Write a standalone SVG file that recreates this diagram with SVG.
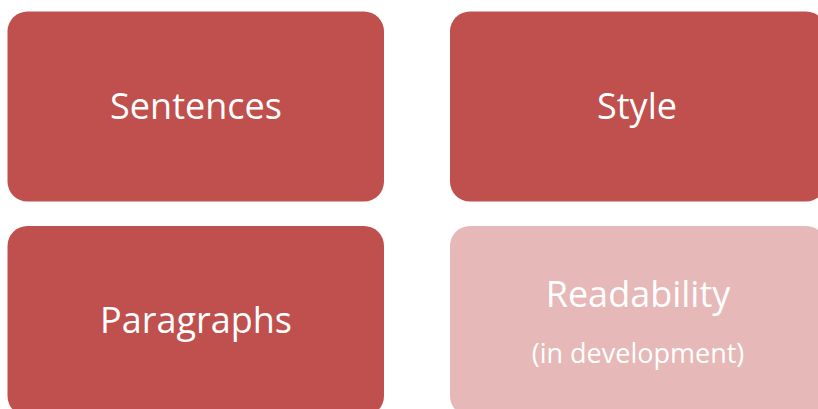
<svg xmlns="http://www.w3.org/2000/svg" width="818" height="409" viewBox="0 0 818 409">
<style>
.box{fill:#C0504D}
.light{fill:#E6B8B7}
.t{font-family:"Open Sans","Liberation Sans",sans-serif;fill:#ffffff;text-anchor:middle}
.big{font-size:36px}
.small{font-size:27px}
</style>
<rect width="818" height="409" fill="#ffffff"/>
<g id="sentences">
<rect class="box" x="7.5" y="11.5" width="376.5" height="190" rx="20"/>
<text class="t big" x="196" y="119">Sentences</text>
</g>
<g id="style">
<rect class="box" x="450" y="11.5" width="376" height="190" rx="20"/>
<text class="t big" x="637" y="119">Style</text>
</g>
<g id="paragraphs">
<rect class="box" x="7.5" y="226" width="376.5" height="190" rx="20"/>
<text class="t big" x="196" y="333">Paragraphs</text>
</g>
<g id="readability">
<rect class="light" x="450" y="226" width="376" height="190" rx="20"/>
<text class="t big" x="638" y="307">Readability</text>
<text class="t small" x="638" y="363">(in development)</text>
</g>
<g id="connectors"/>
</svg>
